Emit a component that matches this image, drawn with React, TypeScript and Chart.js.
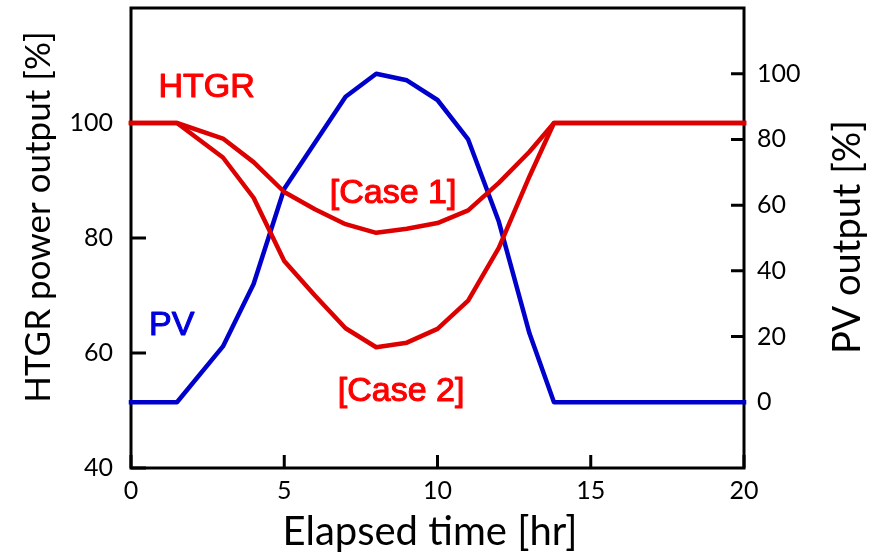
import React, { useEffect, useRef } from 'react';
import { Chart, registerables } from 'chart.js';

Chart.register(...registerables);

// ---- data ----
const hours = [0, 1.5, 3, 4, 5, 6, 7, 8, 9, 10, 11, 12, 13, 13.8, 20];
const htgrCase1 = [100, 100, 97.3, 93.2, 88, 85, 82.4, 80.9, 81.6, 82.6, 84.8, 89.6, 95, 100, 100];
const htgrCase2 = [100, 100, 94, 87, 76, 70, 64.3, 61, 61.8, 64.2, 69.1, 78.3, 90.7, 100, 100];
const pvOutput = [0, 0, 17, 36, 65, 79, 93, 100, 98, 92, 80, 55, 21, 0, 0];

const xTicks = [0, 5, 10, 15, 20];
const leftTicks = [40, 60, 80, 100];
const rightTicks = [0, 20, 40, 60, 80, 100];

const xTitle = 'Elapsed time [hr]';
const leftTitle = 'HTGR power output [%]';
const rightTitle = 'PV output [%]';

// annotation labels (anchored in data coordinates: hours, left axis %)
const labelTexts = ['HTGR', 'PV', '[Case 1]', '[Case 2]'];
const labelHours = [2.47, 1.33, 8.55, 8.81];
const labelLevels = [104.5, 63.1, 86.1, 51.6];
const labelColors = ['#FF0000', '#0000DD', '#FF0000', '#FF0000'];

const RED = '#DD0000';
const BLUE = '#0000CC';
const TICK_FONT = { family: 'Lato', size: 25 };
const LABEL_FONT = '34px "Liberation Sans", Arial, sans-serif';

const toPts = (ys: number[]) => hours.map((h, i) => ({ x: h, y: ys[i] }));

const framePlugin = {
  id: 'frameAndText',
  beforeDatasetsDraw(chart: any) {
    const { ctx, chartArea, scales } = chart;
    const { left, right, top, bottom } = chartArea;
    ctx.save();
    ctx.strokeStyle = '#000';
    ctx.lineWidth = 3;
    ctx.strokeRect(left, top, right - left, bottom - top);
    ctx.beginPath();
    leftTicks.forEach((v) => {
      const y = scales.y.getPixelForValue(v);
      ctx.moveTo(left, y);
      ctx.lineTo(left + 15, y);
    });
    rightTicks.forEach((v) => {
      const y = scales.y2.getPixelForValue(v);
      ctx.moveTo(right, y);
      ctx.lineTo(right - 13, y);
    });
    xTicks.forEach((v) => {
      const x = scales.x.getPixelForValue(v);
      ctx.moveTo(x, bottom);
      ctx.lineTo(x, bottom - 13);
    });
    ctx.stroke();
    ctx.restore();
  },
  afterDraw(chart: any) {
    const { ctx, scales } = chart;
    ctx.save();
    // annotations
    ctx.font = LABEL_FONT;
    ctx.textAlign = 'center';
    ctx.textBaseline = 'alphabetic';
    ctx.lineWidth = 1.1;
    ctx.lineJoin = 'round';
    labelTexts.forEach((t, i) => {
      const x = scales.x.getPixelForValue(labelHours[i]);
      const y = scales.y.getPixelForValue(labelLevels[i]);
      ctx.fillStyle = labelColors[i];
      ctx.strokeStyle = labelColors[i];
      ctx.fillText(t, x, y);
      ctx.strokeText(t, x, y);
    });
    // axis titles
    ctx.fillStyle = '#000';
    ctx.font = '40px Lato';
    ctx.fillText(xTitle, 430, 545);
    ctx.save();
    ctx.font = '35px Lato';
    ctx.translate(50, 217);
    ctx.rotate(-Math.PI / 2);
    ctx.fillText(leftTitle, 0, 0);
    ctx.restore();
    ctx.save();
    ctx.font = '38px Lato';
    ctx.translate(860, 237);
    ctx.rotate(-Math.PI / 2);
    ctx.fillText(rightTitle, 0, 0);
    ctx.restore();
    ctx.restore();
  },
};

const fitV = (w: number) => (s: any) => {
  s.width = w;
  s.paddingTop = 0;
  s.paddingBottom = 0;
};

export default function App() {
  const ref = useRef<HTMLCanvasElement>(null);
  useEffect(() => {
    document.body.style.margin = '0';
    const canvas = ref.current!;
    const chart = new Chart(canvas, {
      type: 'line',
      data: {
        datasets: [
          { label: 'Case 1', data: toPts(htgrCase1), yAxisID: 'y', borderColor: RED, borderWidth: 4.5 },
          { label: 'Case 2', data: toPts(htgrCase2), yAxisID: 'y', borderColor: RED, borderWidth: 4.5 },
          { label: 'PV', data: toPts(pvOutput), yAxisID: 'y2', borderColor: BLUE, borderWidth: 4.5 },
        ],
      },
      options: {
        animation: false,
        responsive: false,
        devicePixelRatio: 1,
        layout: { padding: { top: 8, left: 0, right: 0, bottom: 0 } },
        elements: {
          point: { radius: 0, hoverRadius: 0 },
          line: { tension: 0, fill: false, borderJoinStyle: 'round', borderCapStyle: 'square' },
        },
        datasets: { line: { clip: false } } as any,
        plugins: { legend: { display: false }, tooltip: { enabled: false } },
        scales: {
          x: {
            type: 'linear',
            min: 0,
            max: 20,
            afterBuildTicks: (s: any) => { s.ticks = xTicks.map((v) => ({ value: v })); },
            afterFit: (s: any) => { s.height = 86; s.paddingLeft = 0; s.paddingRight = 0; },
            grid: { display: false, drawTicks: false },
            border: { display: false },
            ticks: { font: TICK_FONT, color: '#000', padding: 8, maxRotation: 0 },
          },
          y: {
            type: 'linear',
            position: 'left',
            min: 40,
            max: 120,
            afterBuildTicks: (s: any) => { s.ticks = leftTicks.map((v) => ({ value: v })); },
            afterFit: fitV(131),
            grid: { display: false, drawTicks: false },
            border: { display: false },
            ticks: { font: TICK_FONT, color: '#000', padding: 18 },
          },
          y2: {
            type: 'linear',
            position: 'right',
            min: -20,
            max: 120,
            afterBuildTicks: (s: any) => { s.ticks = rightTicks.map((v) => ({ value: v })); },
            afterFit: fitV(137),
            grid: { display: false, drawTicks: false },
            border: { display: false },
            ticks: { font: TICK_FONT, color: '#000', padding: 13 },
          },
        },
      },
      plugins: [framePlugin],
    });
    return () => chart.destroy();
  }, []);
  return (
    <div style={{ width: 881, height: 554 }}>
      <canvas ref={ref} width={881} height={554} style={{ display: 'block' }} />
    </div>
  );
}
